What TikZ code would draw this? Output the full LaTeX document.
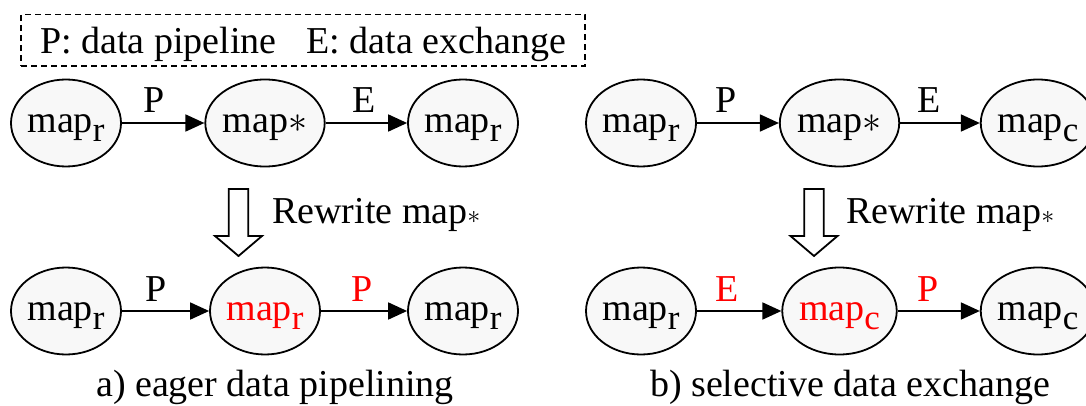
\RequirePackage{fix-cm}
\documentclass[tikz,border=0pt]{standalone}
\usepackage{fontspec}
\setmainfont{Liberation Serif}
\usetikzlibrary{arrows.meta,shapes.geometric}
\definecolor{nodefill}{RGB}{248,248,248}
\newcommand\subr[1]{\raisebox{-9pt}{\fontsize{35}{35}\selectfont #1}}
\newcommand\mstar{$\ast$}
\newcommand\substar{{\fontsize{26}{26}\selectfont$\ast$}}
\begin{document}
\begin{tikzpicture}[x=1pt,y=-1pt,
  font=\fontsize{38}{40}\selectfont,
  op/.style={ellipse,draw,line width=1.8pt,fill=nodefill,minimum width=110pt,minimum height=87pt,inner sep=0pt,text height=27pt,text depth=8pt},
  arr/.style={line width=1.8pt,-{Triangle[length=19pt,width=17pt]}},
  lab/.style={anchor=base,yshift=10pt,inner sep=0pt},
  hl/.style={text=red},
  hollow/.style={line width=1.8pt,fill=white,line join=miter}]
\useasboundingbox (0,0) rectangle (1086,406);

% legend
\node[draw,dashed,dash pattern=on 6pt off 4pt,line width=1.5pt,minimum width=564pt,minimum height=51.5pt,inner sep=0pt,text height=30pt,text depth=3.3pt] (legend) at (303,40.25) {P: data pipeline\hspace{30pt}E: data exchange};

% ---- a) eager data pipelining
\node[op] (a1) at (66,123) {map\subr{r}};
\node[op] (a2) at (265,123) {map\mstar};
\node[op] (a3) at (463,123) {map\subr{r}};
\draw[arr] (a1) -- node[lab,xshift=-9pt]{P} (a2);
\draw[arr] (a2) -- node[lab,xshift=-2pt]{E} (a3);

\draw[hollow] (228.8,189) -- (248.2,189) -- (248.2,236) -- (262,236) -- (238.5,256) -- (215,236) -- (228.8,236) -- cycle;
\node[anchor=base west,inner sep=0pt] (rwa) at (272,223.5) {Rewrite map\substar};

\node[op] (b1) at (66,311) {map\subr{r}};
\node[op,hl] (b2) at (265,311) {map\subr{r}};
\node[op] (b3) at (463,311) {map\subr{r}};
\draw[arr] (b1) -- node[lab,xshift=-9pt]{P} (b2);
\draw[arr] (b2) -- node[lab,xshift=-2pt,hl]{P} (b3);

\node[anchor=base,inner sep=0pt] (capa) at (275,396) {a) eager data pipelining};

% ---- b) selective data exchange
\node[op] (c1) at (641,123) {map\subr{r}};
\node[op] (c2) at (839.5,123) {map\mstar};
\node[op] (c3) at (1038,123) {map\subr{c}};
\draw[arr] (c1) -- node[lab,xshift=-12pt]{P} (c2);
\draw[arr] (c2) -- node[lab,xshift=-11pt]{E} (c3);

\draw[hollow] (804.3,189) -- (823.7,189) -- (823.7,236) -- (837.5,236) -- (814,256) -- (790.5,236) -- (804.3,236) -- cycle;
\node[anchor=base west,inner sep=0pt] (rwb) at (846,223.5) {Rewrite map\substar};

\node[op] (d1) at (641,311) {map\subr{r}};
\node[op,hl] (d2) at (839.5,311) {map\subr{c}};
\node[op] (d3) at (1038,311) {map\subr{c}};
\draw[arr] (d1) -- node[lab,xshift=-12pt,hl]{E} (d2);
\draw[arr] (d2) -- node[lab,xshift=-11pt,hl]{P} (d3);

\node[anchor=base,inner sep=0pt] (capb) at (850,396) {b) selective data exchange};
\end{tikzpicture}
\end{document}
